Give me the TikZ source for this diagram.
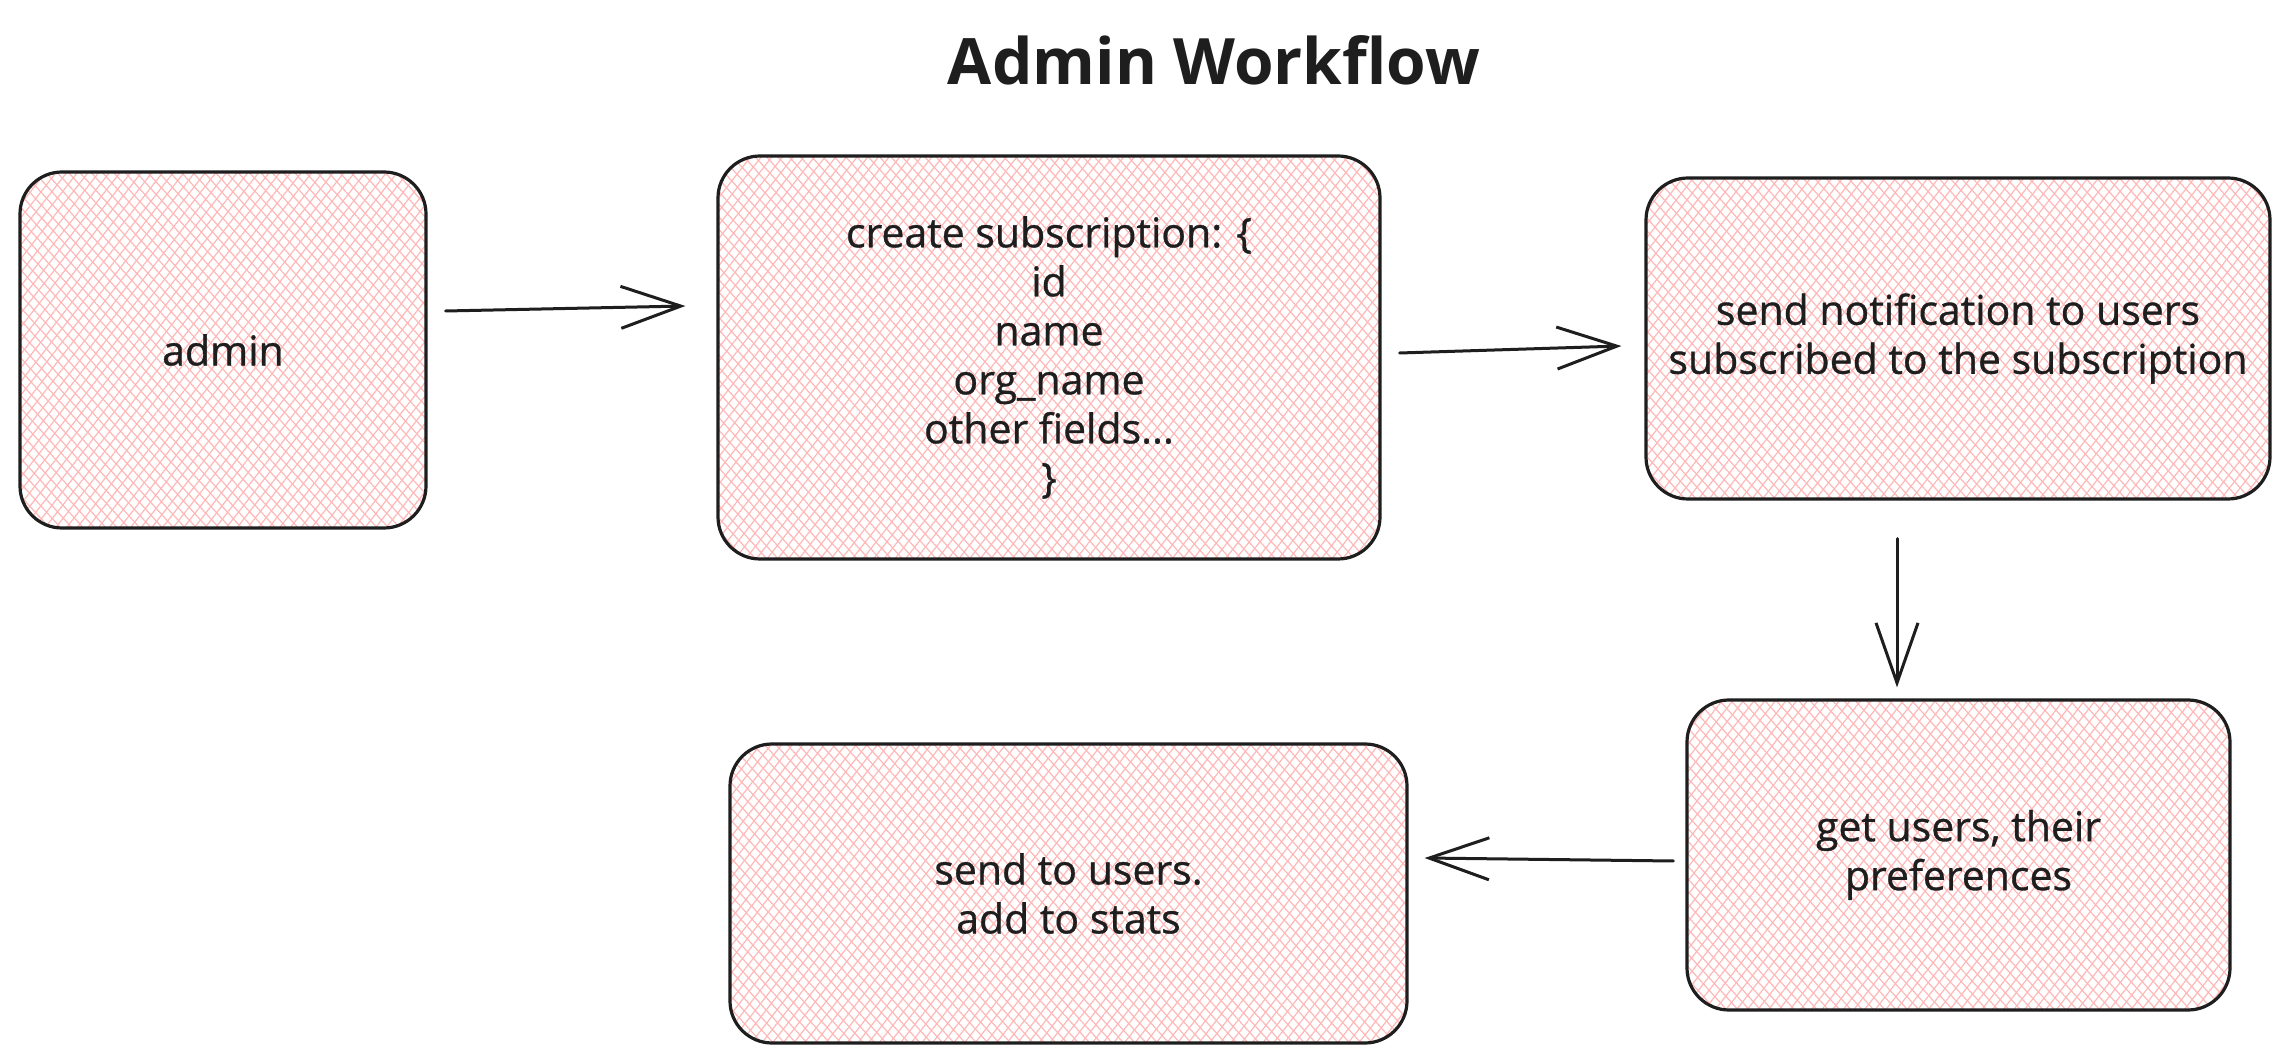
\documentclass[tikz,border=0pt]{standalone}
\usepackage{fontspec}
\setmainfont{Open Sans}
\newfontfamily\handfont[FakeBold=0.8]{Open Sans}
\usetikzlibrary{arrows.meta,patterns.meta,calc}
\definecolor{hatch}{HTML}{FFB8B8}
\definecolor{ink}{HTML}{1E1E1E}
\tikzset{
  box/.style={draw=ink, line width=1.6pt, rounded corners=21pt, align=center,
    font=\handfont\fontsize{20.5}{24.5}\selectfont, text=ink, inner sep=0pt,
    preaction={fill=white},
    preaction={pattern={Lines[angle=52,distance=4.2pt,line width=0.6pt]}, pattern color=hatch},
    preaction={pattern={Lines[angle=-48,distance=4.2pt,line width=0.6pt]}, pattern color=hatch}},
  arr/.style={draw=ink, line width=1.5pt, line cap=round,
    -{Straight Barb[length=30pt,width=21pt,line width=1.5pt]}},
  titletext/.style={font=\bfseries\fontsize{32}{36}\selectfont, text=ink, inner sep=0pt},
}
\begin{document}
\begin{tikzpicture}[x=0.5pt,y=-0.5pt]
\useasboundingbox[fill=white] (0,0) rectangle (2288,1063);
\node[titletext] (title) at (1214,60) {Admin Workflow};
\node[box, minimum width=203pt, minimum height=178pt] (admin) at (223,350) {admin};
\node[box, minimum width=331pt, minimum height=201.5pt] (create) at (1049,357.5)
  {create subscription: \{\\ id\\ name\\ org\_name\\ other fields...\\ \}};
\node[box, minimum width=312pt, minimum height=160.5pt] (notify) at (1958,338.5)
  {send notification to users\\ subscribed to the subscription};
\node[box, minimum width=271.5pt, minimum height=155pt] (get) at (1958.5,855)
  {get users, their\\ preferences};
\node[box, minimum width=338.5pt, minimum height=149.5pt] (send) at (1068.5,893.5)
  {send to users.\\ add to stats};
\draw[arr] ([shift={(18,-39)}]admin.east) -- ([shift={(-31,-51.5)}]create.west);
\draw[arr] ([shift={(18,-4.5)}]create.east) -- ([shift={(-23,7.5)}]notify.west);
\draw[arr] ([shift={(-61,38)}]notify.south) -- ([shift={(-61.5,-11)}]get.north);
\draw[arr] ([shift={(-12,6)}]get.west) -- ([shift={(16,-35.5)}]send.east);
\end{tikzpicture}
\end{document}
